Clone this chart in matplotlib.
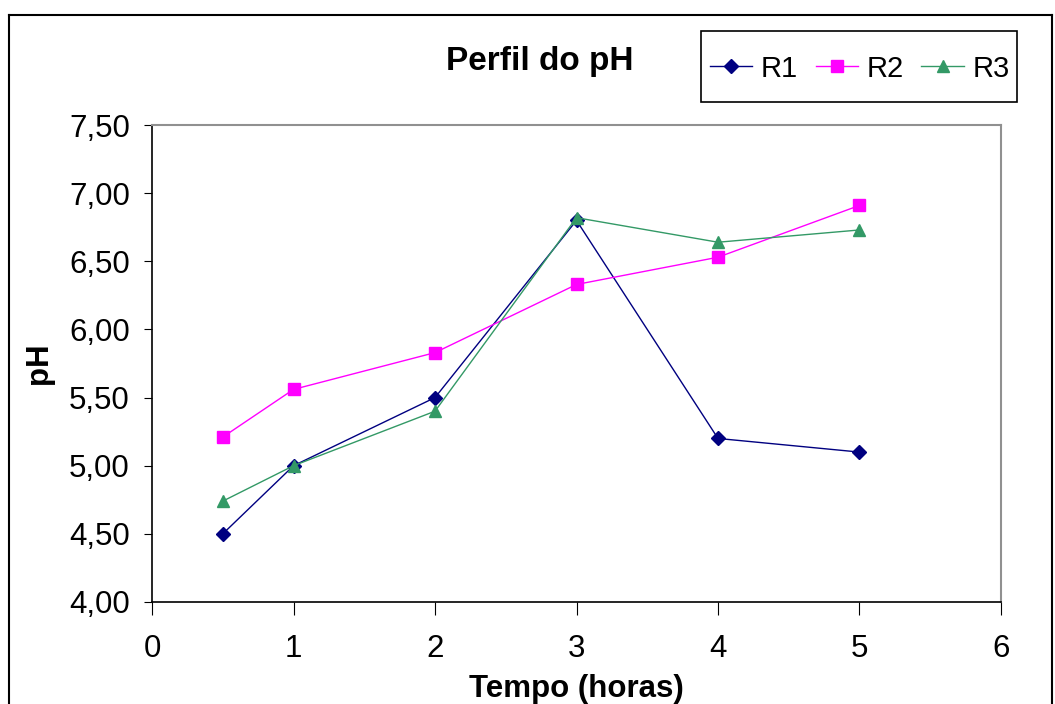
import matplotlib.pyplot as plt
from matplotlib.patches import Rectangle
from matplotlib.ticker import FuncFormatter

# Data
tempo = [0.5, 1, 2, 3, 4, 5]
r1 = [4.50, 5.00, 5.50, 6.80, 5.20, 5.10]
r2 = [5.21, 5.56, 5.83, 6.33, 6.53, 6.91]
r3 = [4.74, 5.00, 5.40, 6.82, 6.64, 6.73]

plt.rcParams['font.family'] = ['Liberation Sans', 'DejaVu Sans']

fig = plt.figure(figsize=(10.55, 7.04), dpi=100)
ax = fig.add_axes([0.1441, 0.1449, 0.8047, 0.6775])

# outer chart frame (bottom edge is cut off in the reference)
fig.add_artist(plt.Line2D([0.0090, 0.0090], [0.0, 0.979], color='black', lw=1.5, transform=fig.transFigure))
fig.add_artist(plt.Line2D([0.0090, 0.9975], [0.979, 0.979], color='black', lw=1.5, transform=fig.transFigure))
fig.add_artist(plt.Line2D([0.9975, 0.9975], [0.0, 0.979], color='black', lw=1.5, transform=fig.transFigure))

ax.plot(tempo, r1, color='#000080', marker='D', markersize=7, lw=1.0, label='R1')
ax.plot(tempo, r2, color='#FF00FF', marker='s', markersize=8, lw=1.0, label='R2')
ax.plot(tempo, r3, color='#339966', marker='^', markersize=9, lw=1.0, label='R3')

ax.set_xlim(0, 6)
ax.set_ylim(4.0, 7.5)
ax.set_xticks(range(0, 7))
ax.set_yticks([4.0, 4.5, 5.0, 5.5, 6.0, 6.5, 7.0, 7.5])
ax.yaxis.set_major_formatter(FuncFormatter(lambda v, p: f"{v:.2f}".replace('.', ',')))
ax.tick_params(axis='both', labelsize=22.5, direction='out', color='black')
ax.tick_params(axis='y', length=6, pad=10)
ax.tick_params(axis='x', length=9, pad=14)

for s in ['top', 'right']:
    ax.spines[s].set_color('#909090')
    ax.spines[s].set_linewidth(1.5)
for s in ['left', 'bottom']:
    ax.spines[s].set_color('black')
    ax.spines[s].set_linewidth(1.2)

ax.set_xlabel('Tempo (horas)', fontsize=22.5, fontweight='bold', labelpad=7)
ax.set_ylabel('pH', fontsize=22.5, fontweight='bold', labelpad=11)
fig.text(0.512, 0.913, 'Perfil do pH', fontsize=24, fontweight='bold', ha='center', va='center')

# legend entries without frame, box drawn separately
leg = ax.legend(loc='center', bbox_to_anchor=(0.8150, 0.9025), bbox_transform=fig.transFigure,
                ncol=3, fontsize=21, frameon=False,
                handlelength=1.45, handletextpad=0.3, columnspacing=0.6, borderpad=0.0)
fig.add_artist(Rectangle((701 / 1055, 1 - 102 / 704), 316 / 1055, 71 / 704, transform=fig.transFigure,
                         fill=False, edgecolor='black', lw=1.2))

fig.savefig('out.png', dpi=100)
